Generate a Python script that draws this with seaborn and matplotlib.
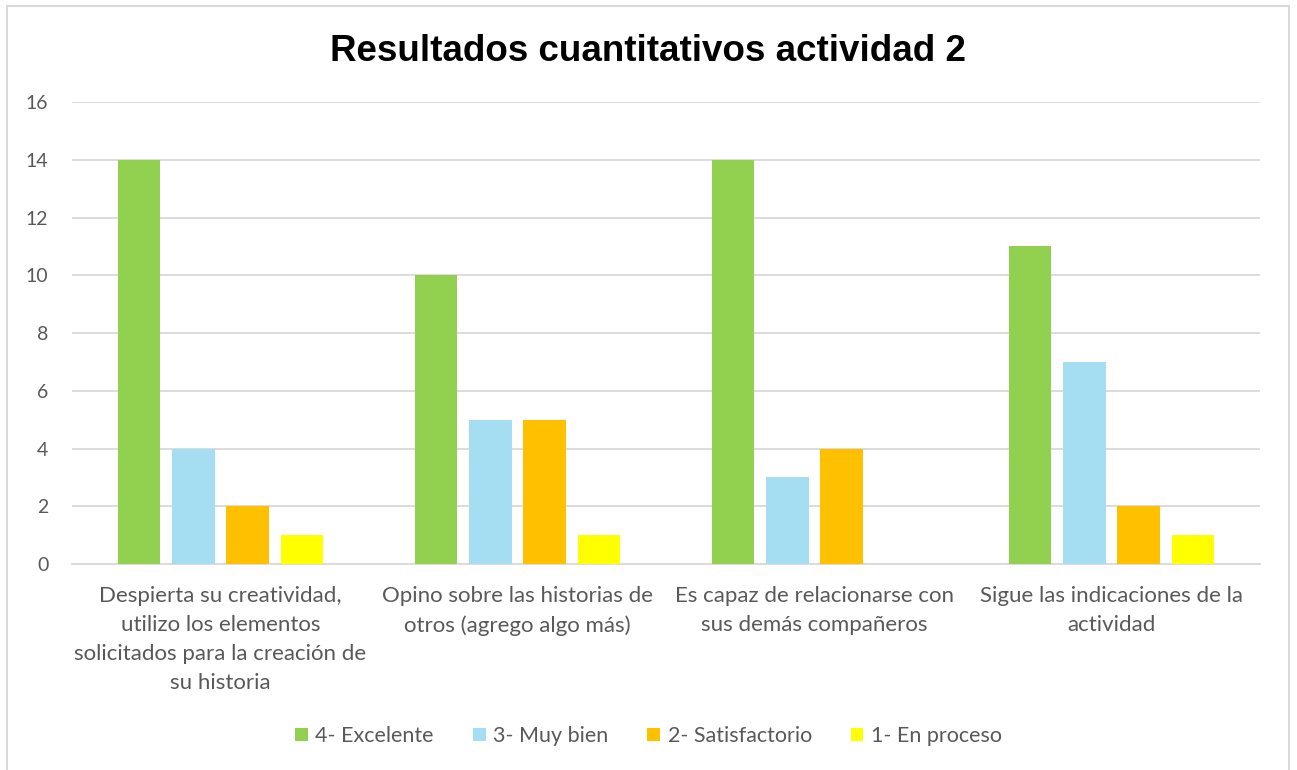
import pandas as pd
import seaborn as sns
import matplotlib.pyplot as plt
from matplotlib.patches import Rectangle

categorias = [
    "Despierta su creatividad,\nutilizo los elementos\nsolicitados para la creación de\nsu historia",
    "Opino sobre las historias de\notros (agrego algo más)",
    "Es capaz de relacionarse con\nsus demás compañeros",
    "Sigue las indicaciones de la\nactividad",
]
niveles = ["4- Excelente", "3- Muy bien", "2- Satisfactorio", "1- En proceso"]
excelente = [14, 10, 14, 11]
muy_bien = [4, 5, 3, 7]
satisfactorio = [2, 5, 4, 2]
en_proceso = [1, 1, 0, 1]
colores = ["#92D050", "#A5DEF2", "#FFC000", "#FFFF00"]

sns.set_style("white")
plt.rcParams['font.family'] = ['Lato', 'DejaVu Sans']

filas = []
for serie, valores in zip(niveles, [excelente, muy_bien, satisfactorio, en_proceso]):
    for cat, v in zip(categorias, valores):
        filas.append({"Categoria": cat, "Nivel": serie, "Valor": v})
df = pd.DataFrame(filas)

fig = plt.figure(figsize=(12.97, 7.70), dpi=100)
ax = fig.add_axes([0.0555, 0.2675, 0.916, 0.6])

sns.barplot(data=df, x="Categoria", y="Valor", hue="Nivel", order=categorias,
            hue_order=niveles, palette=colores, width=0.73, gap=0.22,
            saturation=1, linewidth=0, ax=ax, zorder=3)

ax.set_ylim(0, 16)
ax.set_yticks(range(0, 17, 2))
ax.yaxis.grid(True, color="#D9D9D9", linewidth=1.3, zorder=0)
ax.set_axisbelow(True)
for s in ["top", "right", "left"]:
    ax.spines[s].set_visible(False)
ax.spines["bottom"].set_color("#D9D9D9")
ax.spines["bottom"].set_linewidth(1.3)
ax.set_xlabel("")
ax.set_ylabel("")
ax.tick_params(axis="y", length=0, labelsize=14, labelcolor="#595959", pad=17)
ax.tick_params(axis="x", length=0, labelsize=16, labelcolor="#595959", pad=16)
for lab in ax.get_xticklabels():
    lab.set_linespacing(1.55)

fig.text(0.5, 0.933, "Resultados cuantitativos actividad 2", ha="center", va="center",
         fontsize=26.5, fontweight="bold", color="black",
         family=["Liberation Sans", "DejaVu Sans"])

ax.legend(loc="center", bbox_to_anchor=(0.5, 0.044), bbox_transform=fig.transFigure,
          ncol=4, frameon=False, fontsize=15.5, handlelength=0.6, handleheight=0.6,
          columnspacing=1.8, handletextpad=0.35, labelcolor="#595959")

fig.patches.append(Rectangle((7 / 1297, -0.05), 1282 / 1297, 1.05 - 6 / 770,
                             transform=fig.transFigure, fill=False,
                             edgecolor="#D9D9D9", linewidth=1.5))

plt.savefig("out.png", dpi=100)
